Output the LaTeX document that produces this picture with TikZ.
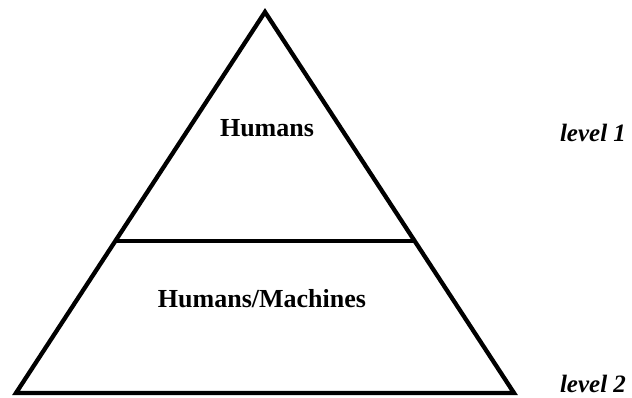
\documentclass[tikz,border=0pt]{standalone}
\usepackage{fontspec}
\setmainfont{Liberation Serif}
\usetikzlibrary{calc}
\begin{document}
\begin{tikzpicture}[x=1pt,y=1pt,
  edge/.style={line width=4.3pt,line join=miter},
  lbl/.style={font=\fontsize{26}{30}\selectfont\bfseries,inner sep=0pt},
  lvl/.style={font=\fontsize{25}{30}\selectfont\bfseries\itshape,anchor=base,inner sep=0pt}]
\useasboundingbox (0,0) rectangle (632,398);
\coordinate (A) at (265,386);
\coordinate (L) at (16,5);
\coordinate (R) at (514,5);
\draw[edge] (A) -- (L) -- (R) -- cycle;
\coordinate (ml) at ($(A)!0.601!(L)$);
\coordinate (mr) at ($(A)!0.601!(R)$);
\draw[edge] (ml) -- (mr);
\node[lbl] (h) at (267,270) {Humans};
\node[lbl] (hm) at (262,99) {Humans/Machines};
\node[lvl] (l1) at (593,256) {level 1};
\node[lvl] (l2) at (593,5) {level 2};
\end{tikzpicture}
\end{document}
